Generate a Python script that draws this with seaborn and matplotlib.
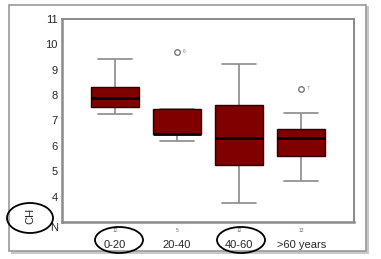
import numpy as np
import pandas as pd
import matplotlib.pyplot as plt
import matplotlib.colors as mcolors
import seaborn as sns
from matplotlib.patches import Ellipse, Rectangle

# grupos de idade e resumo das caixas
grupos = ['0-20', '20-40', '40-60', '>60 years']
n_grupo = ['12', '5', '12', '13']
whisker_baixo = [7.26, 6.18, 3.74, 4.60]
q1 = [7.53, 6.45, 5.23, 5.62]
mediana = [7.89, 6.45, 6.32, 6.31]
q3 = [8.31, 7.46, 7.63, 6.65]
whisker_alto = [9.42, 7.46, 9.22, 7.31]

# outliers
outlier_grupo = ['20-40', '>60 years']
outlier_valor = [9.71, 8.26]
outlier_id = ['6', '7']

linhas = []
for i, g in enumerate(grupos):
    for v in [whisker_baixo[i], q1[i], mediana[i], q3[i], whisker_alto[i]]:
        linhas.append({'grupo': g, 'CH': v})
Base_Dados = pd.DataFrame(linhas)

sns.set_style('white')
plt.rcParams['font.family'] = ['Liberation Sans', 'DejaVu Sans']

fig = plt.figure(figsize=(3.81, 2.59), dpi=100)
W, H = 381, 259

# moldura externa com sombra
fig.add_artist(Rectangle((11 / W, (H - 254) / H), 358 / W, 248 / H, transform=fig.transFigure,
                         facecolor='#c8c8c8', edgecolor='none', zorder=0))
fig.add_artist(Rectangle((9 / W, (H - 251) / H), 357 / W, 246 / H, transform=fig.transFigure,
                         facecolor='white', edgecolor='#9a9a9a', linewidth=1.2, zorder=0.5))

ax = fig.add_axes([62 / W, (H - 222) / H, 292 / W, 203 / H])
ax.set_zorder(1)

cor_cap = '#8a8a8a'
sns.boxplot(data=Base_Dados, x='grupo', y='CH', order=grupos, whis=(0, 100), width=0.77,
            color='#800000', saturation=1, linewidth=1.0, linecolor='#2a0000',
            showfliers=False, ax=ax,
            boxprops={'zorder': 3},
            medianprops={'color': 'black', 'linewidth': 2.0, 'zorder': 4},
            whiskerprops={'color': cor_cap, 'linewidth': 1.2, 'zorder': 1},
            capprops={'color': cor_cap, 'linewidth': 1.2, 'zorder': 1})

# caps mais largos, como no original
for ln in ax.lines:
    xd = np.asarray(ln.get_xdata(), dtype=float)
    yd = np.asarray(ln.get_ydata(), dtype=float)
    if len(xd) == 2 and yd[0] == yd[1] and xd[0] != xd[1] \
            and mcolors.to_hex(ln.get_color()) == cor_cap:
        c = xd.mean()
        ln.set_xdata([c - 0.27, c + 0.27])

# outliers
pos_out = [grupos.index(g) for g in outlier_grupo]
sns.scatterplot(x=pos_out, y=outlier_valor, ax=ax, marker='o', s=16, facecolor='white',
                edgecolor='#777777', linewidth=1.0, zorder=5)
for p, v, t in zip(pos_out, outlier_valor, outlier_id):
    ax.annotate(t, (p, v), xytext=(4, 0), textcoords='offset points', fontsize=3.5,
                color='#777777', va='center')

ax.set_xlim(-0.855, 3.85)
ax.set_ylim(3, 11)
ax.set_yticks(range(4, 12))
ax.set_xticks(range(len(grupos)))
ax.set_xticklabels(grupos, fontsize=8)
ax.tick_params(axis='x', length=2, width=1.2, color='#444444', pad=11)
ax.tick_params(axis='y', length=2, width=1.2, color='#444444', pad=1, labelsize=8)
ax.set_xlabel('')
ax.set_ylabel('')
for s in ['left', 'bottom']:
    ax.spines[s].set_color('#8a8a8a')
    ax.spines[s].set_linewidth(1.8)
for s in ['top', 'right']:
    ax.spines[s].set_color('#8a8a8a')
    ax.spines[s].set_linewidth(1.4)

# N de cada grupo
for i, n in enumerate(n_grupo):
    ax.text(i, -0.03, n, transform=ax.get_xaxis_transform(), fontsize=3.5, color='#5b6e8c',
            ha='center', va='top')
fig.text(58 / W, 1 - 228 / H, 'N', fontsize=8, ha='right', va='center')
fig.text(30 / W, 1 - 216 / H, 'CH', fontsize=8, rotation=90, ha='center', va='center')

# circulos desenhados a mao
for cx, cy, w, h in [(30, 218, 46, 30), (119, 240, 48, 26), (241, 240, 48, 26)]:
    fig.add_artist(Ellipse((cx / W, 1 - cy / H), w / W, h / H, transform=fig.transFigure,
                           facecolor='none', edgecolor='black', linewidth=1.3, zorder=10))

fig.savefig('out.png', dpi=100)
